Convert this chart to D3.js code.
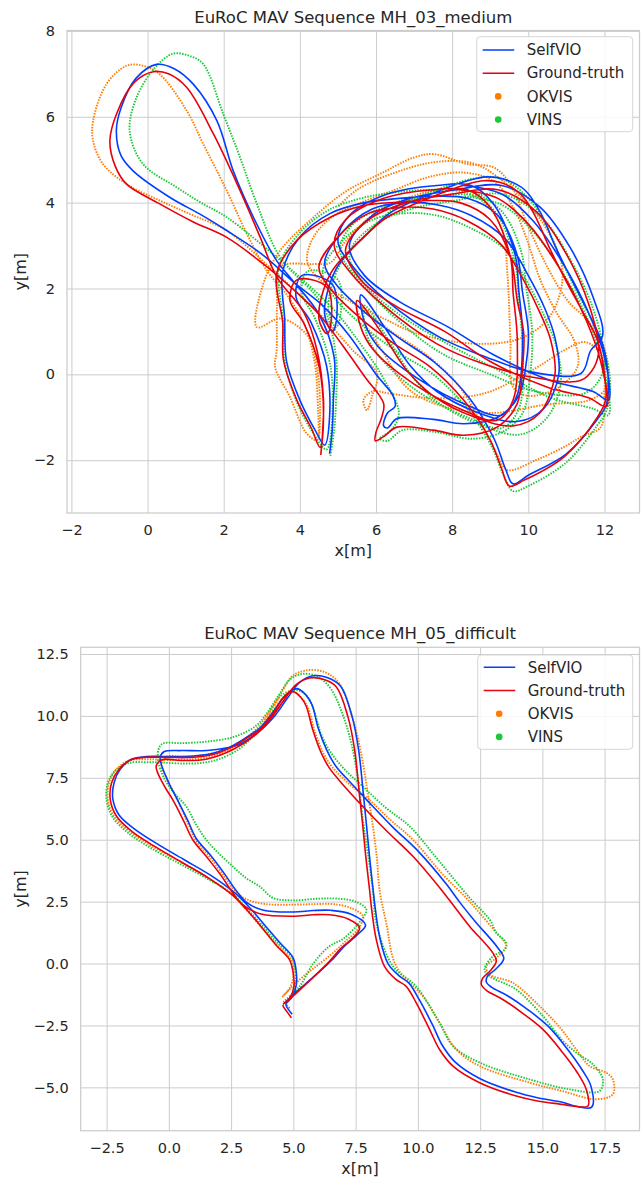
<!DOCTYPE html>
<html><head><meta charset="utf-8">
<script src="https://cdn.jsdelivr.net/npm/d3@7"></script>
<style>
body{margin:0;background:#fff}
svg{display:block}
text{font-family:"DejaVu Sans",sans-serif;fill:#262626}
</style>
</head><body>
<svg id="c" width="641" height="1178"></svg>
<script>
// ---------------- DATA ----------------
const seriesNames = ["SelfVIO","Ground-truth","OKVIS","VINS"];
const titles = ["EuRoC MAV Sequence MH_03_medium","EuRoC MAV Sequence MH_05_difficult"];

// Chart 1 (MH_03_medium) ticks
const xTicks1 = [-2,0,2,4,6,8,10,12];
const yTicks1 = [-2,0,2,4,6,8];
// Chart 2 (MH_05_difficult) ticks
const xTicks2 = [-2.5,0,2.5,5,7.5,10,12.5,15,17.5];
const yTicks2 = [-5,-2.5,0,2.5,5,7.5,10,12.5];

// MH_03 trajectories [x, y] in metres
const selfvio1 = [[4.78,-1.85],[4.85,-1.3],[4.88,-0.6],[4.9,0.4],[4.5,1.4],[3.8,2.2],[3.39,2.65],[2.78,3.66],[2.25,4.74],[1.82,5.91],[1.2,6.76],[0.7,7.12],[0.24,7.22],[-0.3,6.9],[-0.7,6.2],[-0.82,5.67],[-0.7,5.1],[-0.38,4.74],[0.59,4.12],[1.4,3.72],[2.08,3.35],[3.0,2.8],[3.9,2.1],[4.6,1.6],[5.3,0.9],[6.0,0.0],[6.45,-0.5],[6.5,-0.75],[6.3,-0.9],[6.2,-1.2],[6.3,-1.25],[6.55,-1.03],[7.5,-1.05],[8.31,-1.15],[9.2,-1.0],[9.75,-0.5],[9.95,0.3],[10.0,1.0],[9.85,1.9],[9.7,2.8],[9.2,3.7],[8.4,4.1],[7.5,4.15],[6.6,4.1],[5.7,4.0],[4.8,3.75],[4.0,3.2],[3.55,2.4],[3.6,1.3],[3.65,0.3],[4.0,-0.6],[4.4,-1.3],[4.65,-1.65],
[4.78,-1.0],[4.7,0.2],[4.3,1.2],[3.9,1.8],[4.05,2.3],[4.85,2.1],[4.95,1.2],[4.85,1.0],[4.65,1.4],[4.95,2.45],[5.8,3.3],[6.4,3.78],[7.5,4.22],[8.45,4.52],[8.9,4.6],[9.35,4.55],[9.9,4.3],[10.3,3.8],[10.75,2.9],[11.2,2.1],[11.6,1.4],[11.95,0.7],[12.1,-0.1],[12.05,-0.7],[11.85,-1.0],[11.0,-1.85],[10.0,-2.35],[9.6,-2.55],[9.4,-2.2],[9.1,-1.5],[8.45,-0.55],[7.55,0.27],[6.6,0.85],[5.7,1.45],[4.95,2.1],[4.65,2.6],
[5.1,3.3],[5.9,3.85],[6.75,4.0],[7.6,3.95],[8.5,3.7],[9.4,3.15],[10.0,2.3],[10.45,1.5],[10.7,0.85],[10.8,0.0],[10.4,-0.8],[9.7,-1.1],[8.7,-0.9],[7.6,-0.4],[6.9,0.2],[6.3,1.0],[5.6,1.85],[5.7,1.2],[6.05,0.65],[7.1,-0.1],[8.4,-0.72],[9.3,-0.95],[9.7,-0.5],[9.85,0.85],[9.75,1.95],[9.65,2.8],[9.1,3.95],[8.5,4.4],
[7.6,4.4],[6.3,4.2],[5.3,3.7],[5.0,3.1],[5.4,2.5],[6.3,1.7],[7.7,0.85],[8.9,0.4],[10.06,0.06],[11.38,0.02],[11.64,0.56],[11.95,0.9],[11.7,1.8],[11.1,2.95],[10.3,3.9],[9.3,4.4],[8.1,4.3],[6.9,4.1],[5.9,3.7],[5.3,3.0],[5.7,2.3],
[6.6,1.7],[7.9,1.1],[9.1,0.45],[10.6,-0.15],[11.7,-0.4],[12.1,-0.6],[12.0,0.4],[11.6,1.4],[10.9,2.6],[10.1,3.6],[9.3,4.2],[8.3,4.4]];

const gt1 = [[4.55,-1.88],[4.6,-1.3],[4.62,-0.6],[4.45,0.56],[4.1,1.45],[3.4,2.26],[2.96,3.19],[2.43,4.28],[1.73,5.6],[1.03,6.68],[0.55,7.0],[0.15,7.05],[-0.35,6.8],[-0.8,6.1],[-0.99,5.44],[-0.85,4.85],[-0.55,4.43],[0.32,3.97],[1.2,3.55],[2.08,3.19],[3.0,2.6],[3.8,2.0],[4.5,1.4],[5.1,0.7],[5.7,-0.05],[6.2,-0.68],[6.15,-1.0],[6.0,-1.35],[5.98,-1.55],[6.2,-1.45],[6.55,-1.23],[7.5,-1.3],[8.31,-1.42],[9.18,-1.23],[9.7,-0.7],[9.85,0.2],[9.88,0.95],[9.71,1.72],[9.53,2.73],[9.0,3.6],[8.2,4.0],[7.43,4.05],[6.55,4.01],[5.67,3.93],[4.8,3.66],[3.92,3.12],[3.39,2.34],[3.55,1.2],[3.57,0.33],[3.92,-0.6],[4.3,-1.25],[4.53,-1.7],
[4.62,-1.0],[4.5,0.2],[4.1,1.2],[3.74,1.72],[3.92,2.2],[4.71,2.03],[4.8,1.1],[4.71,0.95],[4.5,1.3],[4.8,2.34],[5.67,3.19],[6.29,3.66],[7.43,4.12],[8.39,4.43],[8.83,4.51],[9.27,4.47],[9.8,4.2],[10.15,3.74],[10.59,2.88],[11.03,2.11],[11.46,1.41],[11.82,0.79],[12.0,0.0],[12.03,-0.6],[11.82,-0.99],[10.94,-1.92],[9.88,-2.47],[9.5,-2.6],[9.3,-2.2],[9.0,-1.53],[8.3,-0.6],[7.43,0.17],[6.5,0.7],[5.6,1.3],[4.8,2.0],[4.5,2.5],
[5.0,3.2],[5.8,3.75],[6.64,3.89],[7.5,3.85],[8.39,3.58],[9.27,3.04],[9.88,2.19],[10.32,1.41],[10.59,0.79],[10.7,0.0],[10.3,-0.9],[9.6,-1.2],[8.6,-1.0],[7.5,-0.5],[6.8,0.1],[6.2,0.9],[5.5,1.72],[5.6,1.1],[5.94,0.56],[6.99,-0.22],[8.31,-0.84],[9.18,-1.07],[9.6,-0.6],[9.71,0.79],[9.6,1.9],[9.53,2.73],[9.0,3.89],[8.4,4.3],
[7.5,4.3],[6.2,4.1],[5.2,3.6],[4.9,3.0],[5.3,2.4],[6.2,1.6],[7.6,0.71],[8.8,0.25],[10.06,-0.06],[11.38,-0.14],[11.73,0.17],[11.85,0.6],[11.6,1.6],[11.0,2.8],[10.2,3.8],[9.2,4.3],[8.0,4.2],[6.8,4.0],[5.8,3.6],[5.2,2.9],[5.6,2.2],
[6.5,1.6],[7.8,1.0],[9.0,0.3],[10.5,-0.3],[11.6,-0.55],[12.05,-0.75],[11.9,0.3],[11.5,1.3],[10.8,2.5],[10.0,3.5],[9.2,4.1],[8.2,4.3]];

const okvis1 = [[4.5,-1.45],[4.48,-0.9],[4.4,0.2],[4.15,1.1],[3.7,1.8],[3.13,2.42],[2.61,3.27],[2.08,4.28],[1.46,5.37],[1.03,6.14],[0.32,6.99],[-0.12,7.19],[-0.55,7.19],[-1.08,6.76],[-1.43,5.91],[-1.43,5.44],[-1.17,4.9],[-0.55,4.43],[0.32,4.05],[1.2,3.7],[2.08,3.35],[3.3,2.42],[4.0,1.85],[4.7,1.25],[5.4,0.55],[6.03,0.02],[5.9,-0.5],[5.76,-0.84],[5.67,-0.6],[5.9,-0.4],[6.38,-0.45],[7.3,-0.55],[8.31,-0.53],[9.0,-0.4],[9.62,-0.14],[10.3,0.2],[10.94,0.56],[11.5,0.75],[11.95,0.4],[12.0,-0.4],[11.9,-1.23],[11.4,-1.45],[10.94,-1.69],[10.2,-2.0],[9.45,-2.23],[9.2,-1.9],[8.8,-1.2],[8.2,-0.3],[7.4,0.4],[6.4,1.0],[5.5,1.6],[4.8,2.0],
[4.2,2.6],[4.36,3.2],[4.9,3.7],[5.6,4.0],[6.5,4.3],[7.4,4.6],[8.3,4.7],[9.09,4.5],[9.6,3.9],[9.97,3.12],[10.32,2.19],[10.76,1.41],[11.2,0.79],[11.3,0.2],[10.8,-0.3],[10.0,-0.5],[9.6,-0.3],[9.53,0.79],[9.45,2.34],[9.3,3.4],[8.7,4.1],[7.8,4.3],[6.8,4.1],[5.9,3.7],[5.2,3.1],[4.8,2.6],[4.36,2.57],[3.48,2.5],[3.4,1.6],[3.39,0.56],[3.35,0.17],[3.74,-0.53],[4.18,-1.38],[4.45,-1.53],[4.53,-0.99],[4.45,0.17],[4.2,0.9],[3.5,1.3],[2.87,1.1],
[3.04,2.11],[3.48,2.88],[4.36,3.66],[5.24,4.28],[6.11,4.67],[6.99,5.05],[7.52,5.13],[8.39,4.9],[9.09,4.82],[9.53,4.43],[9.97,3.5],[10.5,2.5],[11.03,1.72],[11.55,1.26],[11.99,0.63],[12.05,-0.3],[11.6,-0.6],[10.5,-0.7],[9.0,-0.9],[7.6,-0.7],[6.8,-0.3],[6.2,0.5],[5.5,1.57],[6.2,1.3],[7.08,0.95],[8.74,0.71],[9.88,0.87],[10.6,1.4],[10.9,2.4],[10.4,3.5],[9.6,4.3],[8.6,4.9],[7.6,4.95],[6.5,4.7],[5.5,4.3],[5.0,3.9]];

const vins1 = [[4.8,-1.9],[4.9,-1.3],[4.95,-0.6],[4.95,0.4],[4.6,1.6],[3.48,2.73],[2.87,3.97],[2.43,5.05],[1.99,6.06],[1.46,7.23],[1.1,7.42],[0.67,7.47],[0.2,7.15],[-0.29,6.45],[-0.47,5.67],[-0.12,4.9],[0.76,4.36],[1.4,4.0],[2.08,3.66],[3.39,2.73],[4.2,2.1],[4.9,1.5],[5.6,0.7],[6.2,-0.1],[6.6,-0.9],[6.4,-1.3],[6.1,-1.5],[6.3,-1.55],[6.7,-1.3],[7.6,-1.35],[8.5,-1.5],[9.3,-1.35],[9.85,-0.9],[10.05,0.0],[10.1,1.0],[9.95,2.0],[9.8,2.9],[9.3,3.8],[8.5,4.25],[7.5,4.3],[6.6,4.25],[5.6,4.1],[4.7,3.8],[3.95,3.25],[3.45,2.5],[3.55,1.3],[3.6,0.3],[3.9,-0.6],[4.3,-1.3],[4.7,-1.75],
[4.85,-1.0],[4.8,0.2],[4.4,1.3],[4.05,1.9],[4.2,2.4],[5.0,2.2],[5.05,1.3],[4.95,1.1],[4.75,1.5],[5.05,2.55],[5.9,3.4],[6.5,3.88],[7.6,4.3],[8.5,4.55],[9.0,4.6],[9.45,4.5],[10.0,4.1],[10.45,3.5],[10.9,2.6],[11.35,1.8],[11.75,1.1],[12.05,0.4],[12.15,-0.3],[12.05,-0.85],[11.8,-1.2],[11.0,-2.05],[10.0,-2.6],[9.6,-2.72],[9.35,-2.35],[9.05,-1.7],[8.4,-0.8],[7.5,0.0],[6.6,0.5],[5.7,1.1],[4.9,1.8],[4.6,2.4],
[5.1,3.1],[5.9,3.6],[6.7,3.75],[7.6,3.7],[8.5,3.4],[9.4,2.9],[10.0,2.1],[10.45,1.3],[10.75,0.6],[10.85,-0.2],[10.5,-1.0],[9.8,-1.4],[8.8,-1.2],[7.7,-0.7],[7.0,-0.1],[6.4,0.7],[5.7,1.6],[5.75,0.95],[6.1,0.4],[7.1,-0.4],[8.4,-1.0],[9.3,-1.25],[9.75,-0.8],[9.85,0.6],[9.75,1.7],[9.65,2.6],[9.2,3.7],[8.6,4.15],
[7.6,4.15],[6.4,3.95],[5.4,3.5],[5.05,2.9],[5.45,2.3],[6.4,1.4],[7.7,0.5],[9.0,0.0],[10.2,-0.4],[11.45,-0.45],[11.85,-0.15],[12.0,0.3],[11.75,1.4],[11.15,2.6],[10.35,3.65],[9.3,4.2],[8.1,4.05],[6.9,3.85],[5.9,3.45],[5.3,2.8],[5.7,2.1],
[6.6,1.4],[7.9,0.7],[9.2,0.1],[10.6,-0.55],[11.7,-0.8],[12.1,-0.95],[12.0,0.1],[11.65,1.1],[10.95,2.3],[10.15,3.3],[9.3,3.95],[8.3,4.15]];

// MH_05 trajectories [x, y] in metres
const selfvio2 = [[4.95,-2.05],[4.8,-1.85],[4.7,-1.65],[4.95,-1.35],[5.12,-0.85],[5.1,-0.2],[4.98,0.25],[4.45,0.85],[3.85,1.55],[3.25,2.25],[2.65,2.85],[1.7,3.55],[0.6,4.2],[-0.5,4.85],[-1.4,5.45],[-2.0,6.0],[-2.25,6.65],[-2.2,7.3],[-1.95,7.85],[-1.5,8.25],[-0.9,8.36],[0,8.36],[1.0,8.38],[1.8,8.5],[2.6,8.82],[3.25,9.22],[3.7,9.55],[4.25,10.25],[4.7,10.85],[5.15,11.1],[5.5,10.85],[5.75,10.45],[6.0,9.5],[6.35,8.6],[6.7,7.98],[7.35,7.25],[8.0,6.55],[9.0,5.5],[10.0,4.55],[11.15,3.2],[11.7,2.45],[12.3,1.7],[13.2,0.65],[13.45,0.2],[13.1,-0.25],[12.8,-0.5],[12.75,-0.75],[12.95,-0.95],[13.6,-1.3],[14.4,-1.85],[15.25,-2.55],[16.0,-3.45],[16.6,-4.3],[16.95,-4.95],[16.98,-5.8],[16.3,-5.75],[15.8,-5.6],[14.8,-5.42],[13.95,-5.2],[12.5,-4.65],[11.5,-3.98],[10.98,-3.3],[10.6,-2.5],[10.05,-1.45],[9.65,-0.8],[9.25,-0.5],[8.8,0.0],[8.48,1.0],[8.28,2.3],[8.2,3.0],[8.05,4.4],[7.94,5.55],[7.82,6.75],[7.62,8.63],[7.36,9.97],[6.9,11.2],[6.35,11.55],[5.8,11.62],[5.25,11.35],[4.75,10.7],[4.25,10.0],[3.6,9.35],[2.7,8.8],[1.5,8.6],[0.5,8.6],[-0.2,8.55],[-0.35,8.3],[-0.05,7.4],[0.3,6.7],[0.75,5.8],[1.1,5.05],[1.65,4.4],[2.25,3.6],[2.7,2.95],[3.15,2.45],[3.8,2.15],[5.0,2.08],[5.8,2.14],[6.5,2.15],[7.3,2.0],[7.9,1.55],[7.55,1.15],[7.05,0.7],[6.6,0.2],[5.8,-0.55],[5.05,-1.2],[4.68,-1.6]];

const gt2 = [[4.92,-2.19],[4.75,-1.95],[4.58,-1.68],[4.85,-1.4],[5.02,-0.95],[4.98,-0.3],[4.85,0.15],[4.3,0.75],[3.7,1.5],[3.1,2.2],[2.57,2.75],[1.6,3.45],[0.5,4.1],[-0.6,4.75],[-1.5,5.35],[-2.1,5.95],[-2.35,6.6],[-2.3,7.3],[-2.0,7.85],[-1.55,8.22],[-0.9,8.33],[0,8.32],[1.0,8.33],[1.8,8.45],[2.57,8.76],[3.2,9.15],[3.64,9.44],[4.18,10.1],[4.58,10.71],[4.98,10.98],[5.3,10.75],[5.52,10.38],[5.78,9.44],[6.12,8.5],[6.45,7.89],[7.1,7.1],[7.79,6.34],[8.8,5.3],[9.8,4.33],[10.94,2.98],[11.5,2.25],[12.08,1.5],[13.01,0.43],[13.15,0.1],[12.9,-0.3],[12.6,-0.6],[12.55,-0.85],[12.75,-1.08],[13.41,-1.45],[14.2,-2.0],[15.02,-2.66],[15.82,-3.6],[16.4,-4.4],[16.76,-5.08],[16.83,-5.75],[16.2,-5.75],[15.82,-5.69],[14.8,-5.55],[13.95,-5.35],[12.48,-4.81],[11.41,-4.14],[10.87,-3.47],[10.47,-2.66],[9.93,-1.58],[9.53,-0.92],[9.13,-0.65],[8.66,-0.11],[8.33,0.97],[8.13,2.31],[8.06,2.98],[7.9,4.4],[7.79,5.54],[7.66,6.75],[7.46,8.63],[7.19,9.97],[6.72,11.18],[6.2,11.48],[5.65,11.53],[5.1,11.25],[4.6,10.6],[4.1,9.9],[3.5,9.25],[2.6,8.65],[1.5,8.25],[0.5,8.2],[-0.3,8.22],[-0.51,7.96],[-0.2,7.2],[0.16,6.61],[0.6,5.75],[0.96,5.0],[1.5,4.33],[2.1,3.55],[2.57,2.85],[3.0,2.35],[3.7,2.0],[4.98,1.91],[5.8,1.97],[6.45,1.97],[7.2,1.8],[7.66,1.44],[7.39,1.04],[6.9,0.6],[6.45,0.09],[5.7,-0.65],[4.98,-1.32],[4.58,-1.65]];

const okvis2 = [[4.55,-1.35],[4.85,-1.0],[5.0,-0.5],[4.95,0.1],[4.3,0.8],[3.6,1.6],[3.0,2.3],[2.4,2.9],[1.5,3.5],[0.4,4.15],[-0.7,4.75],[-1.6,5.35],[-2.2,5.95],[-2.45,6.6],[-2.4,7.3],[-2.1,7.85],[-1.6,8.2],[-0.9,8.25],[0,8.22],[1.0,8.25],[1.8,8.38],[2.6,8.72],[3.25,9.15],[3.7,9.55],[4.15,10.3],[4.55,10.85],[4.95,11.0],[5.3,10.75],[5.6,10.3],[5.85,9.4],[6.2,8.5],[6.55,7.95],[7.3,7.2],[7.95,6.7],[8.9,5.8],[9.8,5.0],[11.0,3.6],[11.94,2.65],[12.48,2.04],[13.2,1.2],[13.41,0.97],[13.55,0.7],[13.15,0.23],[12.75,-0.11],[12.88,-0.44],[13.81,-0.78],[15.02,-1.85],[15.8,-2.7],[16.36,-3.47],[16.9,-4.14],[17.57,-4.41],[17.83,-4.68],[17.83,-5.28],[17.16,-5.48],[15.8,-5.15],[14.49,-4.81],[12.48,-4.14],[11.54,-3.47],[10.87,-2.39],[10.2,-1.32],[9.13,-0.11],[8.73,1.64],[8.46,2.98],[8.35,4.3],[8.2,5.5],[8.0,6.8],[7.7,8.6],[7.35,10.0],[6.85,11.3],[6.3,11.75],[5.6,11.85],[4.95,11.6],[4.5,10.9],[4.05,10.2],[3.5,9.45],[2.7,8.85],[1.6,8.45],[0.6,8.35],[-0.1,8.35],[-0.3,8.05],[0.0,7.3],[0.35,6.6],[0.75,5.7],[1.1,4.95],[1.6,4.35],[2.2,3.55],[2.65,2.95],[3.1,2.6],[3.9,2.4],[5.0,2.38],[5.9,2.4],[6.6,2.4],[7.3,2.25],[7.8,1.9],[7.6,1.4],[7.1,0.9],[6.5,0.35],[5.8,-0.2],[5.25,-0.65],[4.58,-1.32]];

const vins2 = [[4.85,-1.8],[4.7,-1.6],[4.95,-1.3],[5.1,-0.8],[5.05,-0.1],[4.95,0.25],[4.35,0.85],[3.7,1.6],[3.1,2.25],[2.5,2.85],[1.5,3.45],[0.4,4.05],[-0.7,4.65],[-1.6,5.25],[-2.25,5.9],[-2.5,6.6],[-2.45,7.3],[-2.15,7.8],[-1.6,8.1],[-0.9,8.13],[-0.3,8.12],[0.5,8.08],[1.3,8.1],[2.0,8.25],[2.8,8.65],[3.4,9.2],[3.9,9.8],[4.4,10.5],[4.8,10.95],[5.1,11.05],[5.5,10.85],[5.8,10.3],[6.1,9.3],[6.45,8.6],[7.0,7.9],[7.79,7.15],[8.7,6.3],[9.67,5.54],[10.8,4.2],[12.08,2.65],[12.9,1.75],[13.15,1.24],[13.55,0.83],[13.48,0.56],[13.01,0.29],[12.68,-0.24],[12.88,-0.51],[13.95,-1.05],[15.02,-2.12],[15.8,-3.1],[16.36,-3.6],[17.03,-4.07],[17.43,-4.68],[17.29,-5.15],[16.09,-5.08],[14.49,-4.68],[12.48,-4.0],[11.41,-3.33],[10.87,-2.39],[9.93,-0.92],[9.0,-0.11],[8.33,1.64],[8.19,2.98],[8.0,4.4],[7.79,5.81],[7.6,7.4],[7.35,8.8],[7.0,10.0],[6.5,11.1],[5.95,11.6],[5.4,11.7],[4.9,11.5],[4.45,10.9],[4.0,10.2],[3.5,9.6],[2.6,9.15],[1.5,8.96],[0.5,8.9],[-0.2,8.9],[-0.37,8.76],[-0.45,8.3],[-0.2,7.5],[0.2,6.9],[0.7,6.34],[1.1,5.6],[1.5,5.0],[2.0,4.45],[2.57,3.92],[3.1,3.45],[3.64,3.12],[4.18,2.65],[5.0,2.55],[6.0,2.62],[6.8,2.62],[7.5,2.5],[7.93,2.18],[7.6,1.6],[7.0,1.0],[6.45,0.7],[5.8,0.0],[5.25,-0.92],[4.6,-1.55]];

// ---------------- DRAWING ----------------
const COL = {"SelfVIO":"#023eff","Ground-truth":"#e8000b","OKVIS":"#ff7c00","VINS":"#1ac938"};
const svg = d3.select("#c");
svg.append("rect").attr("width",641).attr("height",1178).attr("fill","#fff");

function drawChart(cfg){
  const {x0,x1,y0,y1} = cfg.box;
  const x = d3.scaleLinear().domain(cfg.xDomain).range([x0,x1]);
  const y = d3.scaleLinear().domain(cfg.yDomain).range([y1,y0]);
  const g = svg.append("g");
  const clipId = "clip"+cfg.id;
  svg.append("clipPath").attr("id",clipId).append("rect")
     .attr("x",x0).attr("y",y0).attr("width",x1-x0).attr("height",y1-y0);

  // grid
  const gx = g.append("g").attr("transform",`translate(0,${y1})`)
    .call(d3.axisBottom(x).tickValues(cfg.xTicks).tickSize(-(y1-y0)).tickFormat(""));
  const gy = g.append("g").attr("transform",`translate(${x0},0)`)
    .call(d3.axisLeft(y).tickValues(cfg.yTicks).tickSize(-(x1-x0)).tickFormat(""));
  [gx,gy].forEach(a=>{a.select(".domain").remove();
    a.selectAll("line").attr("stroke","#cccccc").attr("stroke-width",1);});

  // tick labels
  const lx = g.append("g").attr("transform",`translate(0,${y1})`)
    .call(d3.axisBottom(x).tickValues(cfg.xTicks).tickSize(0).tickPadding(12).tickFormat(cfg.fmt));
  const ly = g.append("g").attr("transform",`translate(${x0},0)`)
    .call(d3.axisLeft(y).tickValues(cfg.yTicks).tickSize(0).tickPadding(12).tickFormat(cfg.fmt));
  [lx,ly].forEach(a=>{a.select(".domain").remove();
    a.selectAll("text").attr("font-family","DejaVu Sans").attr("font-size",14.5).attr("fill","#262626");});

  // trajectories
  const line = d3.line().x(d=>x(d[0])).y(d=>y(d[1])).curve(d3.curveCatmullRom.alpha(0.5));
  const pg = g.append("g").attr("clip-path",`url(#${clipId})`);
  cfg.series.forEach(s=>{
    const p = pg.append("path").datum(s.data).attr("d",line)
      .attr("fill","none").attr("stroke",COL[s.name]);
    if(s.dotted){ p.attr("stroke-width",1.9).attr("stroke-dasharray","1.5 1.3"); }
    else { p.attr("stroke-width",1.6).attr("stroke-linejoin","round"); }
  });

  // frame
  g.append("rect").attr("x",x0).attr("y",y0).attr("width",x1-x0).attr("height",y1-y0)
    .attr("fill","none").attr("stroke","#cccccc").attr("stroke-width",1.25);

  // title & labels
  g.append("text").attr("x",(x0+x1)/2).attr("y",y0-8).attr("text-anchor","middle")
    .attr("font-size",16.5).text(cfg.title);
  g.append("text").attr("x",(x0+x1)/2).attr("y",y1+43).attr("text-anchor","middle")
    .attr("font-size",16).text("x[m]");
  g.append("text").attr("transform",`translate(26,${(y0+y1)/2}) rotate(-90)`)
    .attr("text-anchor","middle").attr("font-size",16).text("y[m]");

  // legend
  const L = cfg.legend;
  const lg = g.append("g");
  lg.append("rect").attr("x",L.x).attr("y",L.y).attr("width",L.w).attr("height",L.h)
    .attr("rx",3.5).attr("fill","#fff").attr("fill-opacity",0.85)
    .attr("stroke","#d6d6d6").attr("stroke-width",1);
  seriesNames.forEach((n,i)=>{
    const cy = L.y + L.first + i*L.step;
    if(i<2){
      lg.append("line").attr("x1",L.x+6).attr("x2",L.x+37.5).attr("y1",cy).attr("y2",cy)
        .attr("stroke",COL[n]).attr("stroke-width",1.6);
    } else {
      lg.append("circle").attr("cx",L.x+21.5).attr("cy",cy).attr("r",3.3).attr("fill",COL[n]);
    }
    lg.append("text").attr("x",L.x+50).attr("y",cy).attr("dy","0.35em")
      .attr("font-size",15).text(n);
  });
}

const fmtInt = d3.format("d");
const fmt1 = d3.format(".1f");

drawChart({
  id:1, title:titles[0],
  box:{x0:67,x1:639.5,y0:30.5,y1:513},
  xDomain:[-2.116,12.92], yDomain:[-3.23,8.01],
  xTicks:xTicks1, yTicks:yTicks1, fmt:fmtInt,
  legend:{x:476.7,y:36.7,w:156,h:95,first:13.3,step:23.2},
  series:[
    {name:"OKVIS",data:okvis1,dotted:true},
    {name:"VINS",data:vins1,dotted:true},
    {name:"SelfVIO",data:selfvio1},
    {name:"Ground-truth",data:gt1}
  ]
});

drawChart({
  id:2, title:titles[1],
  box:{x0:80.7,x1:639.5,y0:647.3,y1:1130.7},
  xDomain:[-3.54,18.9], yDomain:[-6.75,12.77],
  xTicks:xTicks2, yTicks:yTicks2, fmt:fmt1,
  legend:{x:477.7,y:655,w:155,h:94.3,first:12.3,step:23.2},
  series:[
    {name:"OKVIS",data:okvis2,dotted:true},
    {name:"VINS",data:vins2,dotted:true},
    {name:"SelfVIO",data:selfvio2},
    {name:"Ground-truth",data:gt2}
  ]
});
</script>
</body></html>
